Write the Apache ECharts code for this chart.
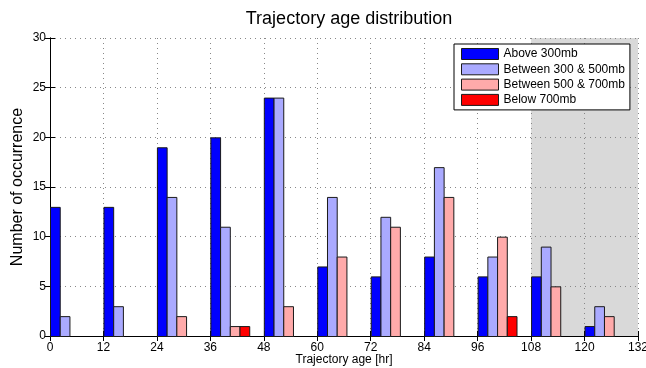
<!DOCTYPE html>
<html>
<head>
<meta charset="utf-8">
<script src="https://cdn.jsdelivr.net/npm/echarts@6/dist/echarts.min.js"></script>
<style>
  html, body { margin: 0; padding: 0; background: #fff; }
  #chart { width: 646px; height: 368px; }
</style>
</head>
<body>
<div id="chart"></div>
<script>
// Trajectory age bins (start of each 12 h bin)
const ageBins = [0, 12, 24, 36, 48, 60, 72, 84, 96, 108, 120];
const xTicks = { min: 0, max: 132, step: 12 };
const yTicks = { min: 0, max: 30, step: 5 };

// Occurrence counts per pressure layer
const seriesNames = ['Above 300mb', 'Between 300 & 500mb', 'Between 500 & 700mb', 'Below 700mb'];
const above300   = [13, 13, 19, 20, 24, 7, 6, 8, 6, 6, 1];
const mid300_500 = [2, 3, 14, 11, 24, 14, 12, 17, 8, 9, 3];
const mid500_700 = [0, 0, 2, 1, 3, 8, 11, 14, 10, 5, 2];
const below700   = [0, 0, 0, 1, 0, 0, 0, 0, 2, 0, 0];
const seriesColors = ['#0000ff', '#aaaaff', '#ffaaaa', '#ff0000'];

// Shaded age range
const shadedRange = [108, 132];

const layers = [above300, mid300_500, mid500_700, below700];
const barSpan = 12 * (4 / 5.5) / 4; // width of one bar in hours

const font = 'Liberation Sans, Arial, Helvetica, sans-serif';

function barSeries(k) {
  return {
    name: seriesNames[k],
    type: 'custom',
    itemStyle: { color: seriesColors[k], borderColor: '#1a1a1a', borderWidth: 1 },
    data: ageBins.map((b, i) => [b, layers[k][i]]),
    renderItem(params, api) {
      const bin = api.value(0), v = api.value(1);
      if (!v) return null;
      const p0 = api.coord([bin + k * barSpan, v]);
      const p1 = api.coord([bin + (k + 1) * barSpan, 0]);
      return {
        type: 'rect',
        shape: { x: p0[0] + 0.5, y: p0[1] + 0.5, width: p1[0] - p0[0], height: p1[1] - p0[1] },
        style: { fill: seriesColors[k], stroke: '#1a1a1a', lineWidth: 1 }
      };
    },
    z: 3
  };
}

const shadeSeries = {
  name: 'shade',
  type: 'custom',
  silent: true,
  z: -1,
  data: [[shadedRange[0], shadedRange[1]]],
  renderItem(params, api) {
    const a = api.coord([api.value(0), yTicks.max]);
    const b = api.coord([api.value(1), yTicks.min]);
    return {
      type: 'rect',
      shape: { x: a[0], y: a[1], width: b[0] - a[0], height: b[1] - a[1] },
      style: { fill: '#d9d9d9' }
    };
  }
};

const splitDotted = { show: true, lineStyle: { color: '#888', width: 1, type: [1, 4] } };
const blackLine = { show: true, lineStyle: { color: '#000', width: 1 } };
const tickIn = { show: true, inside: true, length: 5, lineStyle: { color: '#000' } };

const chart = echarts.init(document.getElementById('chart'), null, { renderer: 'canvas' });
chart.setOption({
  animation: false,
  backgroundColor: '#fff',
  textStyle: { fontFamily: font },
  title: {
    text: 'Trajectory age distribution',
    left: 344, top: 5, textAlign: 'center',
    textStyle: { fontFamily: font, fontSize: 18, fontWeight: 'normal', color: '#000' }
  },
  grid: { left: 50, right: 8, top: 38, bottom: 32, outerBoundsMode: 'none', containLabel: false },
  legend: {
    data: seriesNames,
    orient: 'vertical',
    left: 454, top: 44,
    padding: [4, 5, 4, 7],
    itemGap: 3.3,
    itemWidth: 37, itemHeight: 11,
    icon: 'rect',
    itemStyle: { borderColor: '#1a1a1a', borderWidth: 1 },
    backgroundColor: '#fff',
    borderColor: '#000', borderWidth: 1,
    textStyle: { fontFamily: font, fontSize: 12, color: '#000', lineHeight: 12 }
  },
  xAxis: [{
    type: 'value', min: xTicks.min, max: xTicks.max, interval: xTicks.step,
    name: 'Trajectory age [hr]', nameLocation: 'middle', nameGap: 18, nameMoveOverlap: false,
    nameTextStyle: { fontFamily: font, fontSize: 12, color: '#000', verticalAlign: 'top' },
    axisLine: blackLine, axisTick: tickIn, splitLine: splitDotted,
    axisLabel: { fontFamily: font, fontSize: 12, color: '#000', margin: 6 }
  }, {
    type: 'value', position: 'top', min: xTicks.min, max: xTicks.max, interval: xTicks.step,
    axisLine: blackLine, axisTick: tickIn, splitLine: { show: false }, axisLabel: { show: false }
  }],
  yAxis: [{
    type: 'value', min: yTicks.min, max: yTicks.max, interval: yTicks.step,
    name: 'Number of occurrence', nameLocation: 'middle', nameGap: 24, nameRotate: 90,
    nameMoveOverlap: false,
    nameTextStyle: { fontFamily: font, fontSize: 16, color: '#000' },
    axisLine: blackLine, axisTick: tickIn, splitLine: splitDotted,
    axisLabel: { fontFamily: font, fontSize: 12, color: '#000', margin: 4 }
  }, {
    type: 'value', position: 'right', min: yTicks.min, max: yTicks.max, interval: yTicks.step,
    axisLine: blackLine, axisTick: tickIn, splitLine: { show: false }, axisLabel: { show: false }
  }],
  series: [shadeSeries, barSeries(0), barSeries(1), barSeries(2), barSeries(3)]
});
</script>
</body>
</html>
